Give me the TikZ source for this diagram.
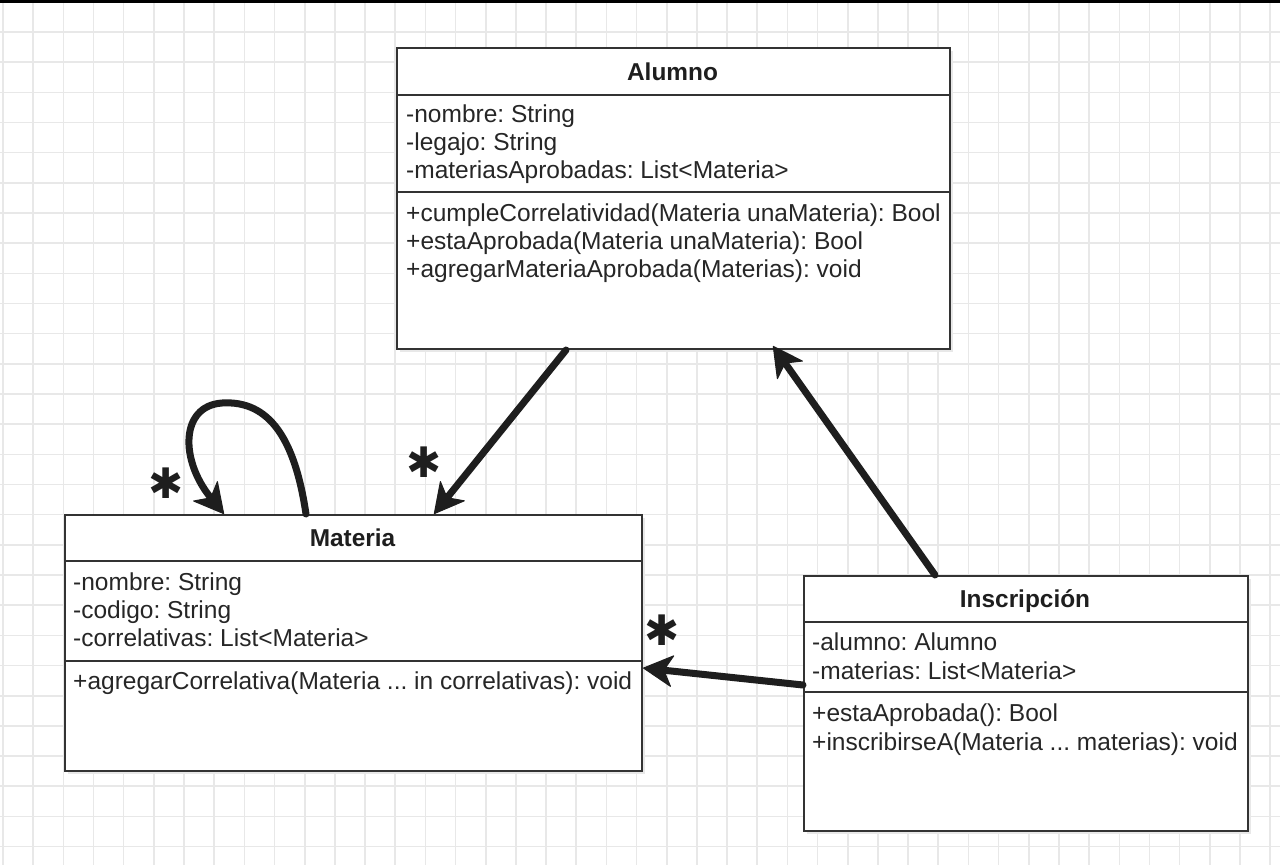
\documentclass[tikz,border=0pt]{standalone}
\usepackage{fontspec}
\setmainfont{Liberation Sans}
\newfontfamily\symfont{DejaVu Sans}
\usetikzlibrary{arrows.meta}
\definecolor{gridc}{HTML}{E8E8E8}
\definecolor{boxc}{HTML}{333333}
\definecolor{txtc}{HTML}{262626}
\definecolor{inkc}{HTML}{1E1E1E}
\frenchspacing
\begin{document}
\begin{tikzpicture}[x=1pt,y=-1pt,
  gridline/.style={draw=gridc,line width=1.6pt},
  shade/.style={fill=black!9},
  classbox/.style={draw=boxc,fill=white,line width=2pt,inner sep=0pt,anchor=north west},
  sepline/.style={draw=boxc,line width=2pt},
  title/.style={font=\fontsize{24.4}{28}\selectfont\bfseries,text=inkc,inner sep=0pt,anchor=base},
  txt/.style={font=\fontsize{24.5}{28}\selectfont,text=txtc,inner sep=0pt,anchor=base west},
  hand/.style={draw=inkc,line width=7pt,line cap=round,
    -{Stealth[length=31pt,width=33pt,inset=9pt,line width=1pt,round]}},
  mult/.style={text=inkc,inner sep=0pt,font=\symfont\fontsize{42}{42}\selectfont}
]
\useasboundingbox (0,0) rectangle (1280,865);
\fill[white] (0,0) rectangle (1280,865);
% grid
\foreach \k in {0,...,42} \draw[gridline] ({3+30.17*\k},0) -- ({3+30.17*\k},865);
\foreach \k in {1,...,28} \draw[gridline] (0,{1.8+30.17*\k}) -- (1280,{1.8+30.17*\k});
\fill[black] (0,0) rectangle (1280,2.5);

% ---------- Alumno ----------
\fill[shade] (400,51) rectangle (953,352);
\node[classbox,minimum width=553pt,minimum height=301pt] (alumno) at (396,47) {};
\draw[sepline] (396,95) -- (949,95);
\draw[sepline] (396,192) -- (949,192);
\node[title] (alumnoT) at (672.5,80) {Alumno};
\node[txt] (alumnoA1) at (406,122.5) {-nombre: String};
\node[txt] (alumnoA2) at (406,150.5) {-legajo: String};
\node[txt] (alumnoA3) at (406,178.5) {-materiasAprobadas: List<Materia>};
\node[txt] (alumnoM1) at (406,221.5) {+cumpleCorrelatividad(Materia unaMateria): Bool};
\node[txt] (alumnoM2) at (406,249.5) {+estaAprobada(Materia unaMateria): Bool};
\node[txt] (alumnoM3) at (406,277.5) {+agregarMateriaAprobada(Materias): void};

% ---------- Materia ----------
\fill[shade] (68,518) rectangle (645,774);
\node[classbox,minimum width=577pt,minimum height=256pt] (materia) at (64,514) {};
\draw[sepline] (64,561) -- (641,561);
\draw[sepline] (64,661) -- (641,661);
\node[title] (materiaT) at (352.5,546) {Materia};
\node[txt] (materiaA1) at (73,590) {-nombre: String};
\node[txt] (materiaA2) at (73,618) {-codigo: String};
\node[txt] (materiaA3) at (73,646) {-correlativas: List<Materia>};
\node[txt] (materiaM1) at (73,689) {+agregarCorrelativa(Materia ... in correlativas): void};

% ---------- Inscripcion ----------
\fill[shade] (807,579) rectangle (1251,834);
\node[classbox,minimum width=444pt,minimum height=255pt] (inscripcion) at (803,575) {};
\draw[sepline] (803,622) -- (1247,622);
\draw[sepline] (803,692) -- (1247,692);
\node[title] (inscripcionT) at (1025,607) {Inscripción};
\node[txt] (inscripcionA1) at (812,650) {-alumno: Alumno};
\node[txt] (inscripcionA2) at (812,679) {-materias: List<Materia>};
\node[txt] (inscripcionM1) at (812,721) {+estaAprobada(): Bool};
\node[txt] (inscripcionM2) at (812,750) {+inscribirseA(Materia ... materias): void};

% ---------- connectors ----------
\draw[hand] ([xshift=170pt]alumno.south west) -- ([xshift=370pt]materia.north west);
\draw[hand] ([xshift=132pt]inscripcion.north west) -- ([xshift=377pt,yshift=4pt]alumno.south west);
\draw[hand] ([yshift=-110pt]inscripcion.north west) -- ([yshift=-154pt]materia.north east);
\draw[hand] ([xshift=242pt]materia.north west)
   .. controls (295,440) and (270,400) .. (222,403)
   .. controls (180,406) and (180,460) .. ([xshift=160pt]materia.north west);

% ---------- multiplicities ----------
\node[mult] (m1) at (166,483) {✱};
\node[mult] (m2) at (424,462) {✱};
\node[mult] (m3) at (662,630) {✱};
\end{tikzpicture}
\end{document}
